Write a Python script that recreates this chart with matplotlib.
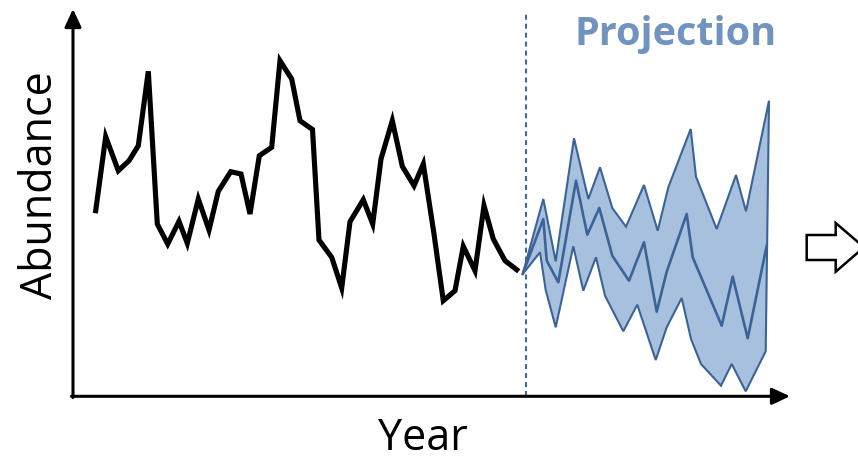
import matplotlib
matplotlib.use("Agg")
import matplotlib.pyplot as plt
from matplotlib.patches import Polygon

# ---- data (x = year, y = abundance) ----
hist_year = [2.27, 3.27, 4.53, 5.6, 6.53, 7.53, 8.43, 9.47, 10.6, 11.43, 12.53, 13.6,
             14.53, 15.77, 16.8, 17.7, 18.63, 19.87, 20.7, 21.87, 22.7, 23.95, 24.6,
             25.87, 26.87, 27.7, 29.03, 29.97, 30.8, 31.93, 32.93, 34.1, 35.03, 36.1,
             37.03, 38.2, 39.03, 40.2, 41.1, 42.03, 43.2, 44.37]
hist_abund = [18.53, 25.93, 22.53, 23.53, 25.03, 32.47, 17.2, 15.2, 17.47, 15.27, 19.7,
              16.6, 20.47, 22.43, 22.2, 18.2, 24.03, 24.87, 33.53, 31.7, 27.53, 26.65,
              15.6, 13.87, 10.8, 17.43, 19.63, 17.2, 23.7, 27.53, 22.97, 21.03, 23.2,
              16.2, 9.53, 10.53, 14.97, 12.53, 19.03, 15.7, 13.53, 12.63]

upper_year = [44.97, 47.03, 48.27, 50.1, 51.53, 52.7, 53.93, 55.3, 57.1, 58.47, 59.53,
              61.77, 62.3, 64.37, 66.3, 67.3, 69.6]
upper_abund = [12.2, 19.7, 13.47, 25.77, 19.7, 22.87, 18.8, 16.93, 21.1, 16.53, 20.87,
               26.7, 21.93, 16.7, 22.1, 18.47, 29.53]

mid_year = [44.97, 47.03, 47.37, 48.53, 50.3, 51.43, 52.63, 53.93, 55.6, 57.1, 58.37,
            59.37, 61.37, 61.97, 64.87, 65.97, 67.47, 69.37]
mid_abund = [12.2, 17.7, 13.53, 11.37, 21.53, 16.13, 18.8, 14.03, 11.53, 15.37, 8.43,
             12.43, 18.2, 13.87, 7.03, 11.93, 5.77, 15.03]

lower_year = [44.97, 46.7, 47.27, 48.27, 50.03, 51.03, 52.3, 53.2, 55.03, 56.43, 58.27,
              59.37, 60.87, 61.8, 62.8, 64.8, 65.87, 67.27, 69.27, 69.6]
lower_abund = [12.2, 14.37, 10.6, 6.87, 14.97, 10.53, 13.87, 10.03, 6.47, 9.13, 3.6,
               6.87, 9.8, 5.7, 3.2, 1.03, 3.2, 0.47, 4.47, 29.53]

projection_start = 45.27
x_label = "Year"
y_label = "Abundance"
proj_label = "Projection"

# ---- figure ----
W, H = 858, 460
fig = plt.figure(figsize=(W / 100, H / 100), dpi=100)
ax = fig.add_axes([0, 0, 1, 1])
# axis origin at pixel (73, 397); 10 px per unit
ax.set_xlim(-7.3, 78.5)
ax.set_ylim(-6.3, 39.7)
ax.axis("off")

edge = "#3b6398"
fill = "#a7c0de"

band_x = upper_year + lower_year[::-1]
band_y = upper_abund + lower_abund[::-1]
ax.add_patch(Polygon(list(zip(band_x, band_y)), closed=True, facecolor=fill,
                     edgecolor=edge, linewidth=1.5, joinstyle="miter", zorder=2))
ax.plot(mid_year, mid_abund, color=edge, linewidth=1.9, zorder=3)

ax.plot(hist_year, hist_abund, color="black", linewidth=3.7, solid_joinstyle="miter",
        zorder=4)

ax.plot([projection_start, projection_start], [0, 38.5], color="#3a6aa8",
        linewidth=1.5, dashes=(2.4, 1.9), zorder=1)

# axes with arrows (figure pixels, origin bottom-left)
arrow_kw = dict(arrowstyle="-|>,head_length=0.9,head_width=0.42", color="black",
                lw=2.2, shrinkA=0, shrinkB=0, mutation_scale=12)
ax.annotate("", xy=(73, H - 10), xytext=(73, H - 398.5), xycoords="figure pixels",
            textcoords="figure pixels", arrowprops=arrow_kw)
ax.annotate("", xy=(790, H - 397.3), xytext=(71.5, H - 397.3), xycoords="figure pixels",
            textcoords="figure pixels", arrowprops=arrow_kw)

# hollow block arrow at the right
px = [806.7, 835.7, 835.7, 864, 835.7, 835.7, 806.7]
py = [236, 236, 224, 248.3, 272.7, 261, 261]
verts = [(x / W, 1 - y / H) for x, y in zip(px, py)]
fig.patches.append(Polygon(verts, closed=True, facecolor="white", edgecolor="black",
                           linewidth=1.8, transform=fig.transFigure, clip_on=False))

font = ["Open Sans", "DejaVu Sans"]
fig.text(52, H - 185, y_label, transform=None, rotation=90, rotation_mode="anchor",
         ha="center", va="baseline", fontsize=31, family=font)
fig.text(422.5, H - 450, x_label, transform=None, ha="center", va="baseline",
         fontsize=31, family=font)
fig.text(675.5, H - 45, proj_label, transform=None, ha="center", va="baseline",
         fontsize=28.5, fontweight="bold", color="#7193bf", family=font)

fig.savefig("out.png", dpi=100)
